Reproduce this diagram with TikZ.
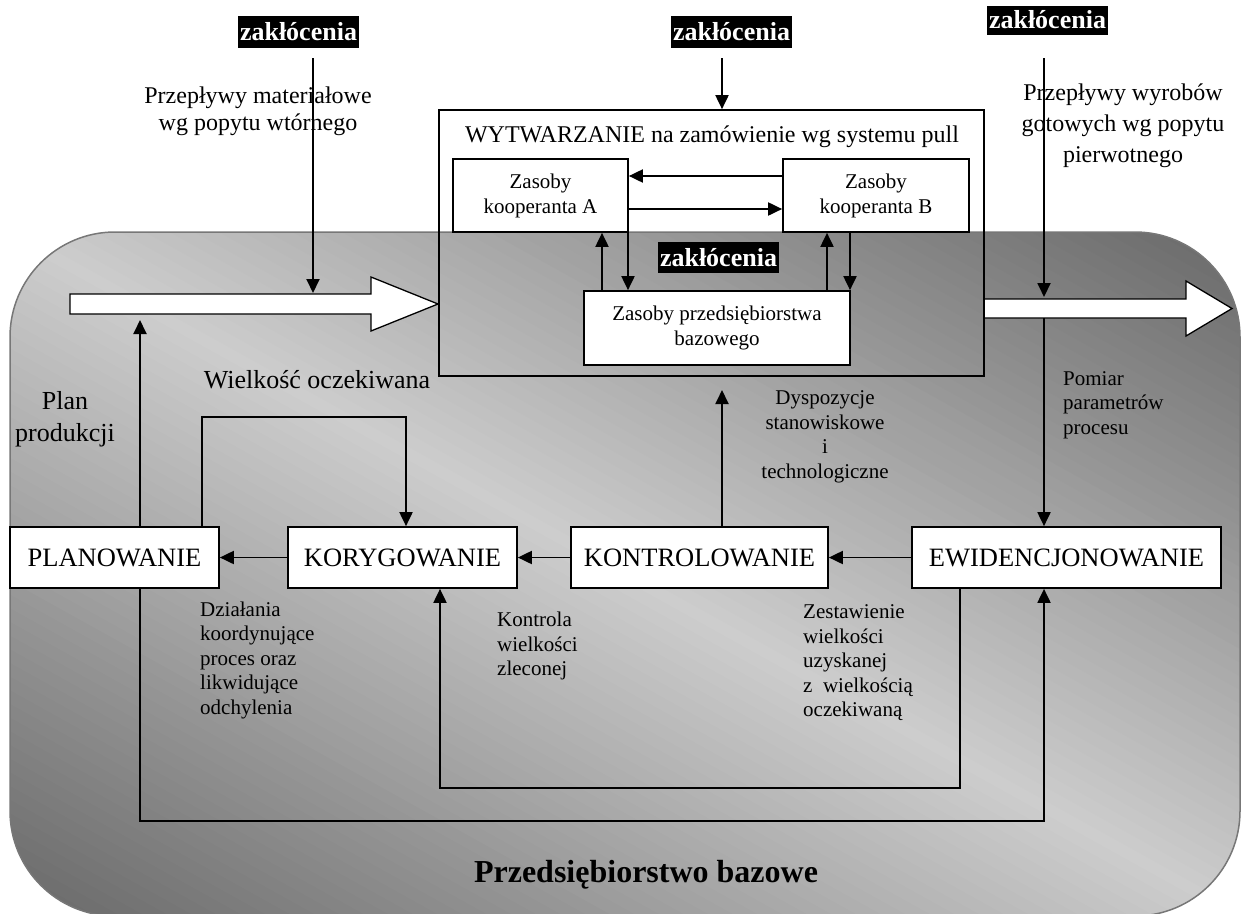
\documentclass[tikz,border=0pt]{standalone}
\usepackage{fontspec}
\setmainfont{Liberation Serif}
\usetikzlibrary{arrows.meta}
\definecolor{bgdark}{HTML}{686868}
\definecolor{bglight}{HTML}{CDCDCD}
\definecolor{bgedge}{HTML}{777777}
\begin{document}
\begin{tikzpicture}[x=1pt,y=-1pt,
  box/.style={draw=black, line width=1.7pt, fill=white, inner sep=0pt, align=center},
  bigbox/.style={box, font=\fontsize{26.5}{30}\selectfont, minimum height=61pt},
  smallbox/.style={box, font=\fontsize{21}{25}\selectfont},
  arr/.style={line width=1.9pt, -{Triangle[length=14pt,width=13pt]}},
  zak/.style={fill=black, text=white, font=\bfseries\fontsize{26}{26}\selectfont, minimum width=121pt, minimum height=32pt, inner sep=0pt},
  lbl/.style={font=\fontsize{21}{24.5}\selectfont, inner sep=0pt, align=left},
  biglbl/.style={font=\fontsize{24}{27}\selectfont, inner sep=0pt, align=center},
  flow/.style={draw=black, line width=1.3pt, fill=white, line join=miter}
]
\useasboundingbox (0,0) rectangle (1244,913);

% background with diagonal gradient
\begin{scope}
\clip[rounded corners=105pt] (10,232) rectangle (1240,916);
\foreach \i in {0,...,104}{
  \pgfmathsetmacro\ta{-1.05+\i*0.02}
  \pgfmathsetmacro\tb{\ta+0.03}
  \pgfmathsetmacro\pc{max(0,min(100,100*(1-abs(\ta+0.01))))}
  \fill[bglight!\pc!bgdark] ({625+(\ta)*615-738},{574-(\ta)*342-410}) -- ({625+(\ta)*615+738},{574-(\ta)*342+410}) -- ({625+(\tb)*615+738},{574-(\tb)*342+410}) -- ({625+(\tb)*615-738},{574-(\tb)*342-410}) -- cycle;
}
\end{scope}
\draw[bgedge, line width=1.5pt, rounded corners=105pt] (10,232) rectangle (1240,916);

% flow arrows
\draw[flow] (70,294) -- (371,294) -- (371,277) -- (438,304) -- (371,331) -- (371,314) -- (70,314) -- cycle;
\draw[flow] (984,299) -- (1186,299) -- (1186,281) -- (1232,308.5) -- (1186,336) -- (1186,318) -- (984,318) -- cycle;
\coordinate (in1) at (313,293);
\coordinate (out1) at (1044,297);
\coordinate (outb) at (1044,318);
\coordinate (planup) at (140,320);

% labels
\node[biglbl] (pm) at (258,111) {Przepływy materiałowe\\wg popytu wtórnego};
\node[biglbl, font=\fontsize{24}{31}\selectfont] (pw) at (1123,126) {Przepływy wyrobów\\gotowych wg popytu\\pierwotnego};
\node[font=\fontsize{26}{30}\selectfont, inner sep=0pt] (wo) at (317,380) {Wielkość oczekiwana};
\node[font=\fontsize{26}{32}\selectfont, align=center, inner sep=0pt] (pp) at (65,419) {Plan\\produkcji};
\node[lbl, anchor=west] (pom) at (1063,405) {Pomiar\\parametrów\\procesu};
\node[lbl, align=center] (dys) at (825,437) {Dyspozycje\\stanowiskowe\\i\\technologiczne};
\node[lbl, anchor=west] (dz) at (200,660) {Działania\\koordynujące\\proces oraz\\likwidujące\\odchylenia};
\node[lbl, anchor=west] (kw) at (497,646) {Kontrola\\wielkości\\zleconej};
\node[lbl, anchor=west] (zw) at (803,663) {Zestawienie\\wielkości\\uzyskanej\\z~~wielkością\\oczekiwaną};
\node[font=\bfseries\fontsize{32}{36}\selectfont, inner sep=0pt] (pb) at (646,875) {Przedsiębiorstwo bazowe};

% disturbance labels
\node[zak] (z1) at (298.5,32) {zakłócenia};
\node[zak] (z2) at (731.5,32) {zakłócenia};
\node[zak, minimum height=29pt] (z3) at (1047.5,20) {zakłócenia};
\node[zak, minimum height=31pt] (z4) at (718.5,257.5) {zakłócenia};

% production box
\node[draw=black, line width=1.7pt, minimum width=545pt, minimum height=266pt, inner sep=0pt] (wyt) at (711.5,243) {};
\node[biglbl] (wytt) at (712,137) {WYTWARZANIE na zamówienie wg systemu pull};
\node[smallbox, minimum width=175pt, minimum height=73pt] (A) at (540.5,195.5) {Zasoby\\kooperanta A};
\node[smallbox, minimum width=186pt, minimum height=73pt] (B) at (876,195.5) {Zasoby\\kooperanta B};
\node[smallbox, minimum width=266pt, minimum height=74pt] (baz) at (717,328) {Zasoby przedsiębiorstwa\\bazowego};

% bottom row
\node[bigbox, minimum width=209pt] (plan) at (114.5,557.5) {PLANOWANIE};
\node[bigbox, minimum width=229pt] (kor) at (402.5,557.5) {KORYGOWANIE};
\node[bigbox, minimum width=257pt] (kon) at (699.5,557.5) {KONTROLOWANIE};
\node[bigbox, minimum width=309pt] (ewi) at (1066.5,557.5) {EWIDENCJONOWANIE};

% coordinates
\coordinate (r1) at (0,176);
\coordinate (r2) at (0,209);
\coordinate (c1) at (602,0);
\coordinate (c2) at (628,0);
\coordinate (c3) at (827,0);
\coordinate (c4) at (850,0);
\coordinate (l1) at (202,417);
\coordinate (l2) at (406,417);
\coordinate (konup) at (722,390);
\coordinate (o1) at (140,821);
\coordinate (o2) at (1044,821);
\coordinate (i1) at (960,788);
\coordinate (i2) at (440,788);

% connectors
\draw[arr] ([xshift=14.5pt,yshift=-10pt]z1.south) -- (in1);
\draw[arr] ([xshift=-9.5pt,yshift=-10pt]z2.south) -- ([xshift=-9.5pt]z2.south |- wyt.north);
\draw[arr] ([xshift=-3.5pt,yshift=-23.5pt]z3.south) -- (out1);
\draw[arr] (outb) -- (ewi.north -| outb);

\draw[arr] (B.west |- r1) -- (A.east |- r1);
\draw[arr] (A.east |- r2) -- (B.west |- r2);
\draw[arr] (baz.north -| c1) -- (A.south -| c1);
\draw[arr] (A.south -| c2) -- (baz.north -| c2);
\draw[arr] (baz.north -| c3) -- (B.south -| c3);
\draw[arr] (B.south -| c4) -- (baz.north -| c4);

\draw[arr] (kor.west) -- (plan.east);
\draw[arr] (kon.west) -- (kor.east);
\draw[arr] (ewi.west) -- (kon.east);
\draw[arr] (plan.north -| planup) -- (planup);
\draw[arr] (plan.north -| l1) -- (l1) -- (l2) -- (kor.north -| l2);
\draw[arr] (kon.north -| konup) -- (konup);
\draw[arr] (plan.south -| o1) -- (o1) -- (o2) -- (ewi.south -| o2);
\draw[arr] (ewi.south -| i1) -- (i1) -- (i2) -- (kor.south -| i2);
\end{tikzpicture}
\end{document}
